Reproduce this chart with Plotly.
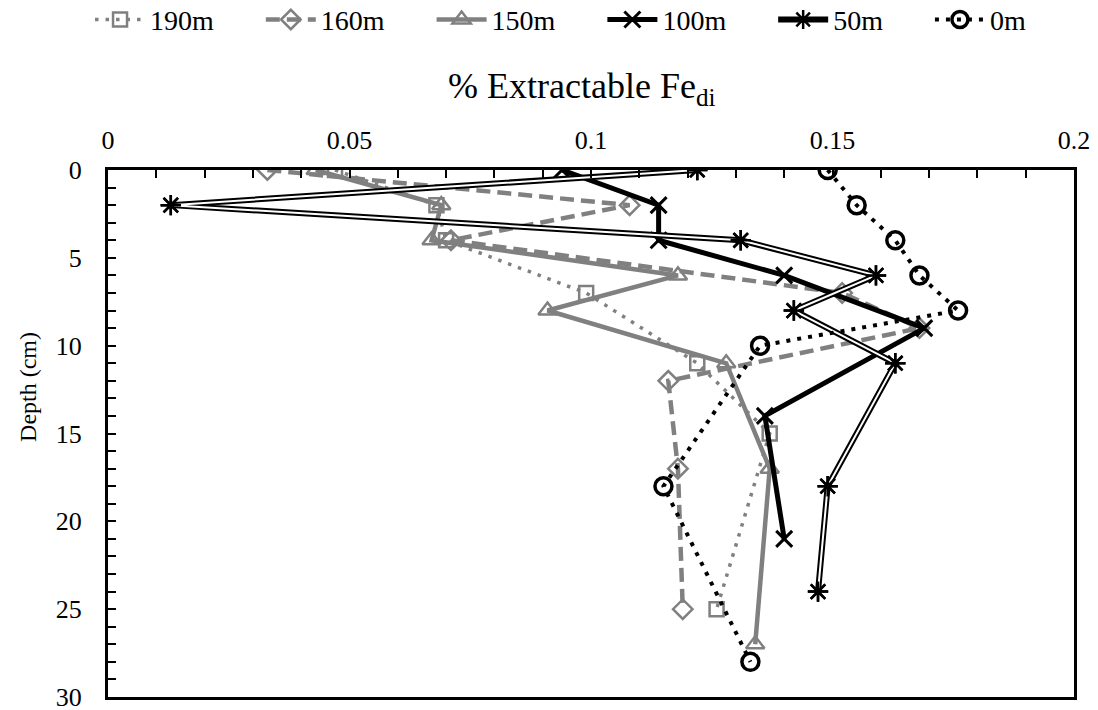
import plotly.graph_objects as go

# ---- data ----
d190 = [0, 2, 4, 7, 11, 15, 25]
fe190 = [0.047, 0.068, 0.070, 0.099, 0.122, 0.137, 0.126]

d160 = [0, 2, 4, 7, 9, 12, 17, 25]
fe160 = [0.033, 0.108, 0.071, 0.152, 0.168, 0.116, 0.118, 0.119]

d150 = [0, 2, 4, 6, 8, 11, 17, 27]
fe150 = [0.043, 0.069, 0.067, 0.118, 0.091, 0.128, 0.137, 0.134]

d100 = [0, 2, 4, 6, 9, 14, 21]
fe100 = [0.094, 0.114, 0.114, 0.140, 0.169, 0.136, 0.140]

d50 = [0, 2, 4, 6, 8, 11, 18, 24]
fe50 = [0.122, 0.013, 0.131, 0.159, 0.142, 0.163, 0.149, 0.147]

d0 = [0, 2, 4, 6, 8, 10, 18, 28]
fe0 = [0.149, 0.155, 0.163, 0.168, 0.176, 0.135, 0.115, 0.133]

x_ticks = [0, 0.05, 0.1, 0.15, 0.2]
x_ticktext = ["0", "0.05", "0.1", "0.15", "0.2"]
y_ticks = [0, 5, 10, 15, 20, 25, 30]

GRAY = "#808080"
BLACK = "#000000"
FONT = "'Liberation Serif', 'Times New Roman', Times, serif"
PAD = "\u00a0" * 6

fig = go.Figure()

fig.add_trace(go.Scatter(
    x=fe190, y=d190, name="190m" + PAD, mode="lines+markers",
    line=dict(color=GRAY, width=3.5, dash="3.5px,7px"),
    marker=dict(symbol="square-open", size=14, color=GRAY, line=dict(width=2.5, color=GRAY)),
))
fig.add_trace(go.Scatter(
    x=fe160, y=d160, name="160m" + PAD, mode="lines+markers",
    line=dict(color=GRAY, width=4.5, dash="14px,7px"),
    marker=dict(symbol="diamond-open", size=15, color=GRAY, line=dict(width=2.5, color=GRAY)),
))
fig.add_trace(go.Scatter(
    x=fe150, y=d150, name="150m" + PAD, mode="lines+markers",
    line=dict(color=GRAY, width=4.5),
    marker=dict(symbol="triangle-up-open", size=16, color=GRAY, line=dict(width=2.5, color=GRAY)),
))
fig.add_trace(go.Scatter(
    x=fe100, y=d100, name="100m" + PAD, mode="lines+markers",
    line=dict(color=BLACK, width=5),
    marker=dict(symbol="x-thin-open", size=16, color=BLACK, line=dict(width=3, color=BLACK)),
))
# 50m: double line (black wide + white narrow on top)
fig.add_trace(go.Scatter(
    x=fe50, y=d50, name="50m" + PAD, mode="lines+markers",
    line=dict(color=BLACK, width=6),
    marker=dict(symbol="asterisk-open", size=17, color=BLACK, line=dict(width=2.5, color=BLACK)),
))
fig.add_trace(go.Scatter(
    x=fe50, y=d50, name="50m", mode="lines", showlegend=False, hoverinfo="skip",
    line=dict(color="white", width=2),
))
fig.add_trace(go.Scatter(
    x=fe50, y=d50, name="50m", mode="markers", showlegend=False,
    marker=dict(symbol="asterisk-open", size=17, color=BLACK, line=dict(width=2.5, color=BLACK)),
))
fig.add_trace(go.Scatter(
    x=fe0, y=d0, name="0m", mode="lines+markers",
    line=dict(color=BLACK, width=4, dash="4px,7px"),
    marker=dict(symbol="circle-open", size=17, color=BLACK, line=dict(width=3.5, color=BLACK)),
))

fig.update_layout(
    width=1098, height=710,
    margin=dict(l=108, r=24, t=170, b=13, autoexpand=False),
    paper_bgcolor="white", plot_bgcolor="white",
    font=dict(family=FONT, size=26, color="black"),
    showlegend=True,
    legend=dict(orientation="h", x=-0.0186, xanchor="left", y=1.285, yanchor="middle",
                font=dict(family=FONT, size=28), itemwidth=50, traceorder="normal",
                bgcolor="rgba(0,0,0,0)"),
    annotations=[
        dict(text="% Extractable Fe<sub>di</sub>", xref="paper", yref="paper",
             x=0.49, y=1.155, xanchor="center", yanchor="middle", showarrow=False,
             font=dict(family=FONT, size=36)),
        dict(text="Depth (cm)", xref="paper", yref="paper", textangle=-90,
             x=-0.083, y=0.588, xanchor="center", yanchor="middle", showarrow=False,
             font=dict(family=FONT, size=24)),
    ],
)

fig.update_xaxes(
    side="top", range=[0, 0.2], tickvals=x_ticks, ticktext=x_ticktext,
    ticks="inside", ticklen=8, tickwidth=2, tickcolor="black",
    minor=dict(dtick=0.01, ticks="inside", ticklen=8, tickwidth=2, tickcolor="black"),
    showline=True, linewidth=3, linecolor="black", mirror=True,
    showgrid=False, zeroline=False, ticklabelstandoff=8, automargin=False,
    ticklabeloverflow="allow",
    tickfont=dict(family=FONT, size=26),
)
fig.update_yaxes(
    range=[30, 0], tickvals=y_ticks,
    ticks="inside", ticklen=8, tickwidth=2, tickcolor="black",
    minor=dict(dtick=1, ticks="inside", ticklen=8, tickwidth=2, tickcolor="black"),
    showline=True, linewidth=3, linecolor="black", mirror=True,
    showgrid=False, zeroline=False, ticklabelstandoff=18, automargin=False,
    ticklabeloverflow="allow",
    tickfont=dict(family=FONT, size=26),
)

fig.write_html("out.html")
